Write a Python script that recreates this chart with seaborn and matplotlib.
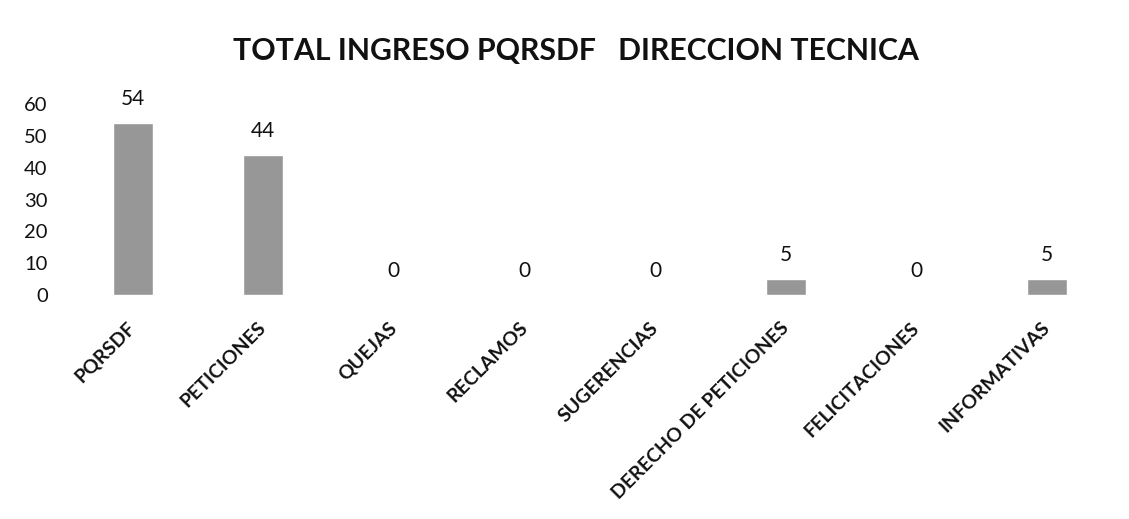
import pandas as pd
import matplotlib.pyplot as plt
import matplotlib.transforms as mtransforms
import seaborn as sns

# Chart data
categorias = ['PQRSDF', 'PETICIONES', 'QUEJAS', 'RECLAMOS', 'SUGERENCIAS',
              'DERECHO DE PETICIONES', 'FELICITACIONES', 'INFORMATIVAS']
valores = [54, 44, 0, 0, 0, 5, 0, 5]
y_ticks = [0, 10, 20, 30, 40, 50, 60]

df = pd.DataFrame({'tipo': categorias, 'total': valores})

sns.set_style('white')
plt.rcParams['font.family'] = ['Lato', 'DejaVu Sans']

fig = plt.figure(figsize=(11.29, 5.19), dpi=100)
ax = fig.add_axes([0.0595, 0.4316, 0.926, 0.368])
sns.barplot(x='tipo', y='total', data=df, color='#979797', width=0.306,
            saturation=1, ax=ax)

# Value labels on top of the bars
for p, v in zip(ax.patches, valores):
    ax.annotate(f'{v}', (p.get_x() + p.get_width() / 2., p.get_height()),
                ha='center', va='bottom', fontsize=15, color='#111111',
                xytext=(0, 10), textcoords='offset points')

ax.set_ylim(0, 60)
ax.set_yticks(y_ticks)
ax.set_xlim(-0.5, len(categorias) - 0.5)
ax.tick_params(axis='y', labelsize=14.5, length=0, pad=14, labelcolor='#111111')
ax.tick_params(axis='x', labelsize=14, length=0, pad=15, labelcolor='#111111')
plt.setp(ax.get_xticklabels(), rotation=45, ha='right', rotation_mode='anchor',
         fontweight='bold')

# nudge rotated labels slightly left/down like the original
shift = mtransforms.ScaledTranslation(-0.06, -0.03, fig.dpi_scale_trans)
for lbl in ax.get_xticklabels():
    lbl.set_transform(lbl.get_transform() + shift)

ax.set_xlabel('')
ax.set_ylabel('')
sns.despine(ax=ax, left=True, bottom=True)

fig.text(0.510, 0.902, 'TOTAL INGRESO PQRSDF   DIRECCION TECNICA',
         ha='center', va='center', fontsize=21.8, fontweight='bold', color='#111111')

fig.savefig('out.png', dpi=100)
